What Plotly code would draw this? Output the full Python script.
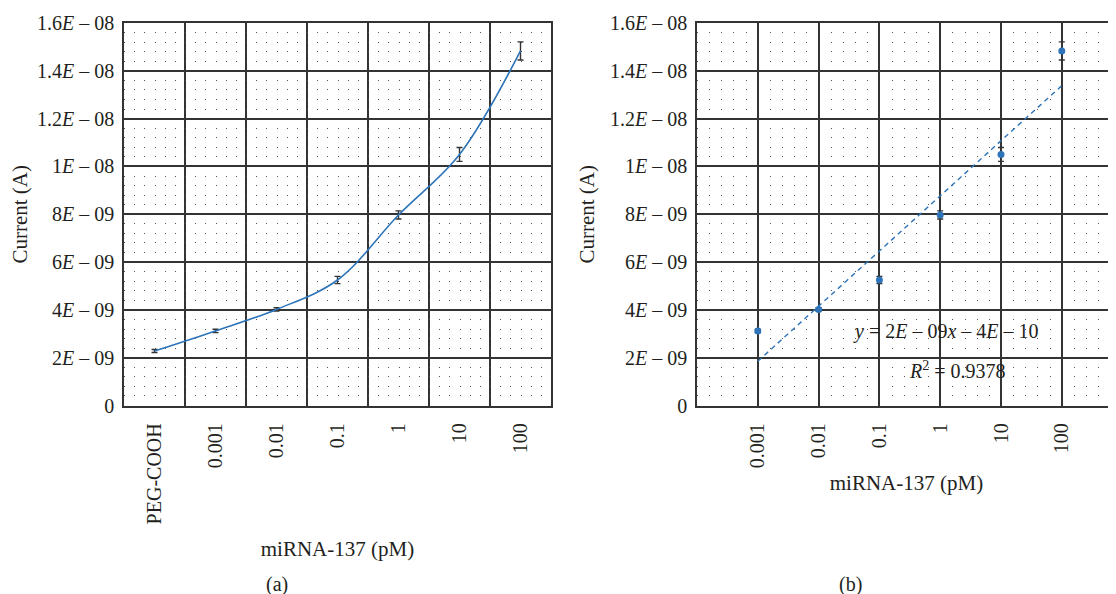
import numpy as np
import plotly.graph_objects as go

# ---- data ----
categories_a = ["PEG-COOH", "0.001", "0.01", "0.1", "1", "10", "100"]
current_a = [2.28e-9, 3.12e-9, 4.02e-9, 5.25e-9, 7.97e-9, 10.5e-9, 14.83e-9]
error_a = [0.06e-9, 0.07e-9, 0.07e-9, 0.15e-9, 0.17e-9, 0.29e-9, 0.38e-9]

categories_b = ["0.001", "0.01", "0.1", "1", "10", "100"]
current_b = current_a[1:]
error_b = error_a[1:]

y_tickvals = [0, 2e-9, 4e-9, 6e-9, 8e-9, 1e-8, 1.2e-8, 1.4e-8, 1.6e-8]
y_ticktext = ["0", "2<i>E</i> – 09", "4<i>E</i> – 09", "6<i>E</i> – 09", "8<i>E</i> – 09",
              "1<i>E</i> – 08", "1.2<i>E</i> – 08", "1.4<i>E</i> – 08", "1.6<i>E</i> – 08"]
eq_text = "<i>y</i> = 2<i>E</i> – 09<i>x</i> – 4<i>E</i> – 10"
r2_text = "<i>R</i><sup>2</sup> = 0.9378"

BLUE = "#2e74b8"
DARK = "#231f20"
GRID = "#333333"
FONT = "Liberation Serif"

# page has an 8px body margin; figure fills the rest of the 1116x594 window
OFF = 8
W, H = 1116 - OFF, 594 - OFF
top, bottom = 23 - OFF, 405.5 - OFF
ydom = [1 - bottom / H, 1 - top / H]
xa_dom = [(124 - OFF) / W, (551 - OFF) / W]
xb_dom = [(697 - OFF) / W, 1.0]

xa_pos = [i + 0.5 for i in range(len(categories_a))]
xb_pos = [i + 1 for i in range(len(categories_b))]

# linear trend on panel (b)
slope, intercept = np.polyfit(xb_pos, current_b, 1)
trend_x = [xb_pos[0], xb_pos[-1]]
trend_y = [slope * x + intercept for x in trend_x]

fig = go.Figure()

fig.add_trace(go.Scatter(
    x=xa_pos, y=current_a, mode="lines",
    line=dict(color=BLUE, width=1.6, shape="spline", smoothing=1.0),
    error_y=dict(type="data", array=error_a, color="#333333", thickness=1.4, width=3),
    xaxis="x", yaxis="y", showlegend=False, hoverinfo="skip"))

fig.add_trace(go.Scatter(
    x=trend_x, y=trend_y, mode="lines",
    line=dict(color=BLUE, width=1.4, dash="5px,4px"),
    xaxis="x2", yaxis="y2", showlegend=False, hoverinfo="skip"))

fig.add_trace(go.Scatter(
    x=xb_pos, y=current_b, mode="markers",
    marker=dict(color=BLUE, size=7),
    error_y=dict(type="data", array=error_b, color="#333333", thickness=1.4, width=3),
    xaxis="x2", yaxis="y2", showlegend=False, hoverinfo="skip"))

tickfont = dict(family=FONT, size=20, color=DARK)
titlefont = dict(family=FONT, size=21, color=DARK)

common_y = dict(
    domain=ydom, range=[0, 1.6e-8], tickmode="array", tickvals=y_tickvals, ticktext=y_ticktext,
    tickfont=tickfont, showgrid=True, gridcolor=GRID, gridwidth=1.5,
    showline=True, mirror=True, linecolor=GRID, linewidth=1.5,
    ticks="outside", ticklen=4, tickcolor="rgba(0,0,0,0)", zeroline=False,
    automargin=False,
    title=dict(text="Current (A)", font=titlefont, standoff=10),
)

fig.update_layout(
    width=W, height=H, autosize=False,
    margin=dict(l=0, r=0, t=0, b=0),
    paper_bgcolor="white", plot_bgcolor="white",
    xaxis=dict(
        domain=xa_dom, anchor="y", range=[0, 7],
        tickmode="array", tickvals=xa_pos, ticktext=categories_a, tickangle=-90,
        tickfont=tickfont, showgrid=False, zeroline=False,
        ticks="outside", ticklen=8, tickcolor="rgba(0,0,0,0)",
        showline=True, mirror=True, linecolor=GRID, linewidth=1.5,
        minor=dict(tickmode="array", tickvals=[1, 2, 3, 4, 5, 6], showgrid=True,
                   gridcolor=GRID, gridwidth=1.5, ticks=""),
        automargin=False,
        title=dict(text="miRNA-137 (pM)", font=titlefont, standoff=18),
    ),
    yaxis=dict(anchor="x", **common_y,
               minor=dict(dtick=4e-10, tick0=0, showgrid=True, gridcolor="#555555",
                          gridwidth=1, griddash="1px,9.17px", ticks="")),
    xaxis2=dict(
        domain=xb_dom, anchor="y2", range=[0, 419 / 60.8],
        tickmode="array", tickvals=xb_pos, ticktext=categories_b, tickangle=-90,
        tickfont=tickfont, showgrid=True, gridcolor=GRID, gridwidth=1.5, zeroline=False,
        ticks="outside", ticklen=8, tickcolor="rgba(0,0,0,0)",
        showline=True, mirror=True, linecolor=GRID, linewidth=1.5,
        automargin=False,
        title=dict(text="miRNA-137 (pM)", font=titlefont, standoff=8),
    ),
    yaxis2=dict(anchor="x2", **common_y,
                minor=dict(dtick=4e-10, tick0=0, showgrid=True, gridcolor="#555555",
                           gridwidth=1, griddash="1px,11.16px", ticks="")),
    annotations=[
        dict(text=eq_text, x=4.1, y=3.08e-9, xref="x2", yref="y2", showarrow=False,
             font=dict(family=FONT, size=20, color=DARK)),
        dict(text=r2_text, x=4.29, y=1.49e-9, xref="x2", yref="y2", showarrow=False,
             font=dict(family=FONT, size=20, color=DARK)),
        dict(text="(a)", x=(277 - OFF) / W, y=1 - (584 - OFF) / H, xref="paper", yref="paper",
             showarrow=False, xanchor="center", yanchor="middle",
             font=dict(family=FONT, size=20, color=DARK)),
        dict(text="(b)", x=(850 - OFF) / W, y=1 - (584 - OFF) / H, xref="paper", yref="paper",
             showarrow=False, xanchor="center", yanchor="middle",
             font=dict(family=FONT, size=20, color=DARK)),
    ],
)

fig.write_html("out.html")
